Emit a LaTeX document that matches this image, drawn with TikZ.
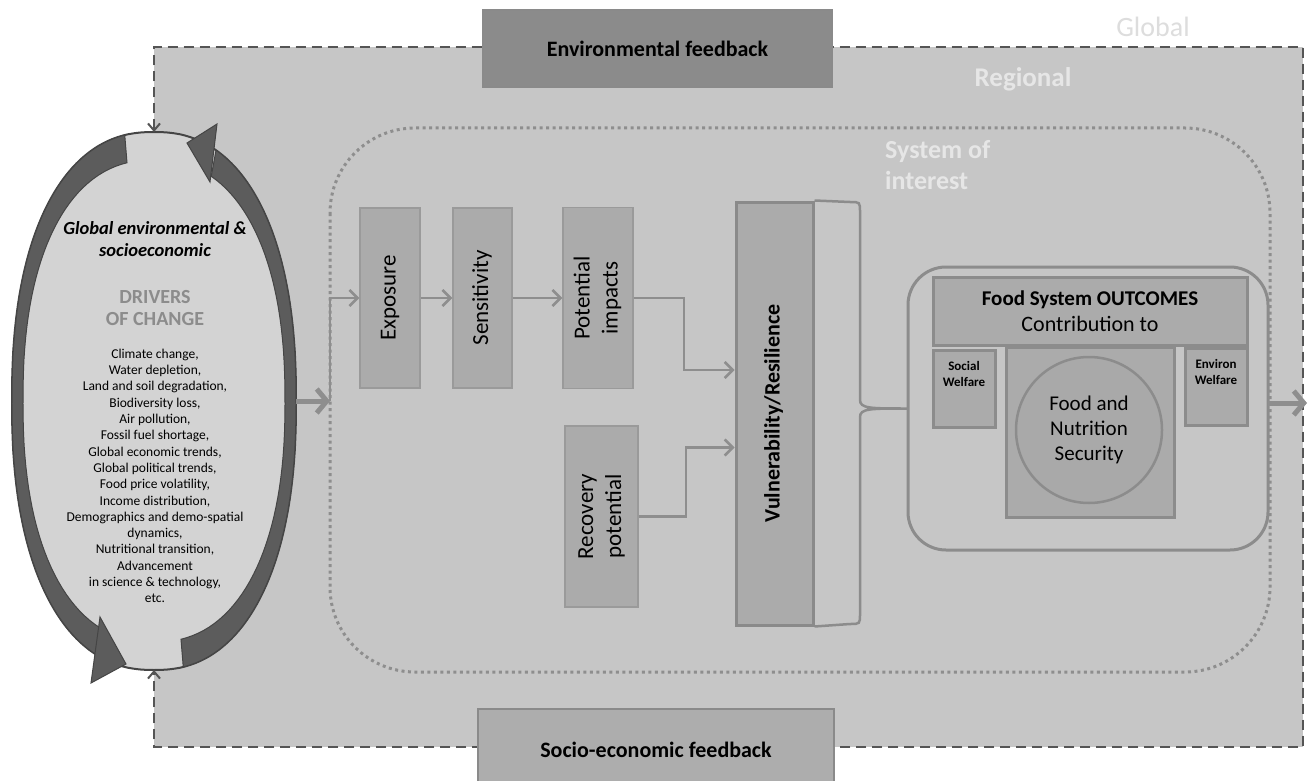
\documentclass[tikz,border=0pt]{standalone}
\usepackage{fontspec}
\setmainfont{Carlito}
\usepackage{graphicx}
\usetikzlibrary{arrows.meta,shapes.geometric}

\definecolor{regiongrey}{HTML}{C6C6C6}
\definecolor{ellipsegrey}{HTML}{D3D3D3}
\definecolor{ellipseline}{HTML}{454545}
\definecolor{bandgrey}{HTML}{5C5C5C}
\definecolor{dashgrey}{HTML}{555555}
\definecolor{dotgrey}{HTML}{8E8E8E}
\definecolor{boxgrey}{HTML}{ABABAB}
\definecolor{boxline}{HTML}{9A9A9A}
\definecolor{vulnline}{HTML}{8A8A8A}
\definecolor{flowgrey}{HTML}{8E8E8E}
\definecolor{outline}{HTML}{8C8C8C}
\definecolor{envgrey}{HTML}{8B8B8B}
\definecolor{sociogrey}{HTML}{ADADAD}
\definecolor{circgrey}{HTML}{A9A9A9}
\definecolor{drivergrey}{HTML}{8C8C8C}
\definecolor{lightgrey}{HTML}{E6E6E6}
\definecolor{globaltext}{HTML}{DDDDDD}

\newcommand{\vlabel}[1]{\rotatebox{90}{\begin{tabular}{@{}c@{}}#1\end{tabular}}}

\begin{document}
\begin{tikzpicture}[x=1pt,y=-1pt,
    declare function={sqx(\t,\r)=\r*sign(cos(\t))*pow(abs(cos(\t))+0.00001,0.87);
                      sqy(\t,\r)=\r*sign(sin(\t))*pow(abs(sin(\t))+0.00001,0.87);}]
    % Define styles
    \tikzset{
        feedback/.style={draw=dashgrey, line width=2pt, dash pattern=on 10pt off 6pt},
        fbbox/.style={draw=vulnline, line width=2pt, inner sep=0pt, font=\fontsize{22}{26}\selectfont\bfseries},
        stepbox/.style={draw=boxline, fill=boxgrey, line width=1.5pt, inner sep=0pt, minimum height=180pt, font=\fontsize{23}{28}\selectfont},
        flow/.style={draw=flowgrey, line width=2.5pt, -{Straight Barb[length=8pt,width=16pt]}},
        bigarrow/.style={draw=flowgrey, line width=5pt, -{Straight Barb[length=10pt,width=24pt]}},
        band/.style={fill=bandgrey, draw=ellipseline, line width=1pt},
        outbox/.style={draw=outline, fill=boxgrey, line width=3pt, inner sep=0pt},
        lighttext/.style={text=lightgrey, inner sep=0pt}
    }

    % Page and clipping
    \useasboundingbox (0,0) rectangle (1309,781);
    \clip (0,0) rectangle (1309,781);
    \fill[white] (0,0) rectangle (1309,781);

    % Draw regional background
    \coordinate (gtl) at (154,47);
    \coordinate (gbr) at (1303,747);
    \fill[regiongrey] (gtl) rectangle (gbr);

    % Draw system of interest
    \draw[dotgrey, line width=3pt, dash pattern=on 3pt off 3.5pt, rounded corners=85pt] (330,128) rectangle (1270,672);

    % Scale labels
    \node[inner sep=0pt, text=globaltext, font=\fontsize{28}{32}\selectfont, anchor=base] (globallbl) at (1153,37) {Global};
    \node[lighttext, font=\fontsize{27}{31}\selectfont\bfseries, anchor=base] (regionlbl) at (1023,87) {Regional};
    \node[lighttext, font=\fontsize{26}{31}\selectfont\bfseries, anchor=north west, align=left] (syslbl) at (885,140) {System of\\interest};

    % Drivers ellipse (anchors only) and its outline
    \node[ellipse, minimum width=284pt, minimum height=538pt, inner sep=0pt, outer sep=0pt] (drivers) at (154,401) {};
    \begin{scope}[shift={(drivers.center)}]
        \filldraw[draw=ellipseline, fill=ellipsegrey, line width=2pt] plot[domain=0:360, samples=181] ({sqx(\x,142)},{sqy(\x,269)}) -- cycle;
    \end{scope}

    % Draw feedback loop
    \draw[feedback, {Straight Barb[length=7pt,width=12pt]}-{Straight Barb[length=7pt,width=12pt]}] (drivers.north) -- (gtl) -- (gtl -| gbr) -- (gbr) -- (gtl |- gbr) -- (drivers.south);

    % Draw cycle arrows round the ellipse
    \begin{scope}[shift={(drivers.center)}]
        \filldraw[band] plot[domain=260.7:111.3, samples=60] ({sqx(\x,142)},{sqy(\x,269)})
            -- plot[domain=111.3:260.7, samples=60] ({sqx(\x,131)},{sqy(\x,241)}) -- cycle;
        \filldraw[band] plot[domain=80.7:-67.3, samples=60] ({sqx(\x,142)},{sqy(\x,269)})
            -- plot[domain=-67.3:80.7, samples=60] ({sqx(\x,131)},{sqy(\x,241)}) -- cycle;
    \end{scope}
    \filldraw[band] (100,617) -- (91,683) -- (126,664) -- cycle;
    \filldraw[band] (217,124) -- (210,182) -- (187,143) -- cycle;

    % Driver texts
    \node[font=\fontsize{18.5}{22}\selectfont\bfseries\itshape, align=center, inner sep=0pt] (drvtitle) at (155,239) {Global environmental \&\\socioeconomic};
    \node[text=drivergrey, font=\fontsize{20}{22}\selectfont\bfseries, align=center, inner sep=0pt] (drvhead) at (155,308) {DRIVERS\\OF CHANGE};
    \node[font=\fontsize{13.5}{16.3}\selectfont, align=center, inner sep=0pt] (drvlist) at (155,476) {Climate change,\\Water depletion,\\Land and soil degradation,\\Biodiversity  loss,\\Air pollution,\\Fossil fuel shortage,\\Global economic  trends,\\Global political  trends,\\Food price volatility,\\Income distribution,\\Demographics and demo-spatial\\dynamics,\\Nutritional  transition,\\Advancement\\in science \& technology,\\etc.};

    % Draw vulnerability chain
    \node[stepbox, minimum width=60pt] (exposure) at (390,298) {\vlabel{Exposure}};
    \node[stepbox, minimum width=59pt] (sensitivity) at (482.5,298) {\vlabel{Sensitivity}};
    \node[stepbox, minimum width=70pt, minimum height=181pt] (impacts) at (598,298) {\vlabel{Potential\\impacts}};
    \node[stepbox, minimum width=73pt, minimum height=181pt] (recovery) at (601.5,516.5) {\vlabel{Recovery\\potential}};
    \node[stepbox, draw=vulnline, line width=3pt, minimum width=77pt, minimum height=423pt, font=\fontsize{22}{26}\selectfont\bfseries] (vuln) at (774.5,413.5) {\vlabel{Vulnerability/Resilience}};

    % Draw outcomes
    \node[draw=outline, line width=3pt, rounded corners=38pt, minimum width=360pt, minimum height=283pt, inner sep=0pt, outer sep=0pt] (outcomes) at (1088,408.5) {};
    \node[outbox, minimum width=314pt, minimum height=68pt, align=center, font=\fontsize{22}{26}\selectfont] (fstitle) at (1090,311) {{\fontsize{21}{26}\selectfont\bfseries Food System OUTCOMES}\\Contribution to};
    \node[outbox, minimum width=62pt, minimum height=77pt] (social) at (964,388.5) {};
    \node[outbox, minimum width=62pt, minimum height=77pt] (environ) at (1216,386.5) {};
    \node[font=\fontsize{13}{16}\selectfont\bfseries, align=center, anchor=north, inner sep=0pt] (sociallbl) at ([yshift=-13pt]social.north) {Social\\Welfare};
    \node[font=\fontsize{13}{16}\selectfont\bfseries, align=center, anchor=north, inner sep=0pt] (environlbl) at ([yshift=-13pt]environ.north) {Environ\\Welfare};
    \node[outbox, minimum width=168pt, minimum height=170pt] (fnsquare) at (1090,432) {};
    \node[circle, draw=outline, fill=circgrey, line width=2.5pt, minimum size=146pt, inner sep=0pt, align=center, font=\fontsize{21}{25}\selectfont] (fns) at (1089,430) {Food and\\Nutrition\\Security};

    % Draw connectors
    \coordinate (entry) at (330,401);
    \coordinate (exit) at (1307,403);
    \draw[bigarrow] (drivers.east) -- (entry);
    \draw[flow] (entry) |- (exposure.west);
    \draw[flow] (exposure) -- (sensitivity);
    \draw[flow] (sensitivity) -- (impacts);
    \draw[flow] (impacts.east) -- ++(50,0) |- ([yshift=43.5pt]vuln.west);
    \draw[flow] (recovery.east) -- ++(47,0) |- ([yshift=-34pt]vuln.west);
    \draw[bigarrow] (outcomes.east |- exit) -- (exit);

    % Draw brace
    \draw[outline, line width=2.5pt] (vuln.north east) -- (850,202) .. controls (860,202) .. (860,212) -- (860,400)
        .. controls (860,408.5) and (870,408.5) .. (outcomes.west)
        .. controls (870,408.5) and (860,408.5) .. (860,417) -- (860,614)
        .. controls (860,624) .. (850,624) -- (vuln.south east);

    % Draw feedback boxes
    \node[fbbox, fill=envgrey, minimum width=349pt, minimum height=77pt] (envfb) at (657.5,48.5) {Environmental feedback};
    \node[fbbox, fill=sociogrey, minimum width=356pt, minimum height=81pt] (sociofb) at (656,749.5) {Socio-economic feedback};
\end{tikzpicture}
\end{document}
